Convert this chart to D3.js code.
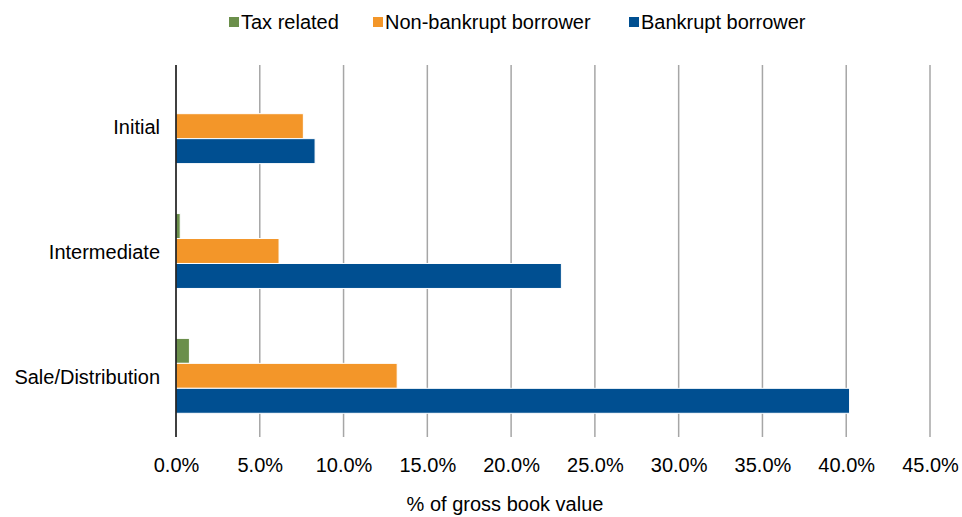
<!DOCTYPE html>
<html><head><meta charset="utf-8">
<script src="https://cdn.jsdelivr.net/npm/d3@7"></script>
<style>body{margin:0;background:#fff}svg{display:block;font-family:"Liberation Sans",Arial,sans-serif}</style>
</head><body><svg id="c" width="962" height="517"></svg>
<script>
const categories = ["Initial", "Intermediate", "Sale/Distribution"];
const seriesNames = ["Tax related", "Non-bankrupt borrower", "Bankrupt borrower"];
const taxRelated = [0.0, 0.25, 0.8];
const nonBankrupt = [7.6, 6.15, 13.2];
const bankrupt = [8.3, 23.0, 40.2];
const xTicks = [0, 5, 10, 15, 20, 25, 30, 35, 40, 45];
const colors = ["#6b8f4b", "#f39629", "#004f91"];
const seriesValues = [taxRelated, nonBankrupt, bankrupt];

const svg = d3.select("#c");
const m = {left: 176, right: 930, top: 65, bottom: 437};
const x = d3.scaleLinear().domain([0, 45]).range([m.left, m.right]);
const y = d3.scaleBand().domain(categories).range([m.top, m.bottom]).paddingInner(0.4).paddingOuter(0.19);
const y1 = d3.scaleBand().domain(seriesNames).range([0, y.bandwidth()]);

// gridlines
svg.append("g").selectAll("line").data(xTicks.filter(d => d > 0)).join("line")
  .attr("x1", d => x(d)).attr("x2", d => x(d))
  .attr("y1", m.top).attr("y2", m.bottom)
  .attr("stroke", "#a6a6a6").attr("stroke-width", 1.5);

// bars
const g = svg.append("g");
categories.forEach((c, ci) => {
  seriesNames.forEach((s, si) => {
    const v = seriesValues[si][ci];
    g.append("rect")
      .attr("x", x(0)).attr("y", y(c) + y1(s))
      .attr("width", x(v) - x(0)).attr("height", y1.bandwidth())
      .attr("fill", colors[si]).attr("stroke", "#fff").attr("stroke-width", 1);
  });
});

// axis line
svg.append("line").attr("x1", x(0)).attr("x2", x(0)).attr("y1", m.top).attr("y2", m.bottom)
  .attr("stroke", "#000").attr("stroke-width", 1.5);

const FS = 20;
// x tick labels
const xa = d3.axisBottom(x).tickValues(xTicks).tickFormat(d => d.toFixed(1) + "%").tickSize(0).tickPadding(0);
const xg = svg.append("g").attr("transform", `translate(0,${m.bottom + 35})`).call(xa);
xg.select(".domain").remove();
xg.selectAll("text").attr("font-size", FS).attr("fill", "#000").attr("font-family", "Liberation Sans, Arial, sans-serif").attr("dy", 0);

// y labels
const ya = d3.axisLeft(y).tickSize(0).tickPadding(16);
const yg = svg.append("g").attr("transform", `translate(${m.left},0)`).call(ya);
yg.select(".domain").remove();
yg.selectAll("text").attr("font-size", FS).attr("fill", "#000").attr("font-family", "Liberation Sans, Arial, sans-serif").attr("dy", "0.4em");

// axis title
svg.append("text").attr("x", 505).attr("y", 511).attr("text-anchor", "middle")
  .attr("font-size", FS).attr("fill", "#000").text("% of gross book value");

// legend
const legX = [229, 373, 629];
seriesNames.forEach((s, i) => {
  svg.append("rect").attr("x", legX[i]).attr("y", 17).attr("width", 10).attr("height", 10).attr("fill", colors[i]);
  svg.append("text").attr("x", legX[i] + 12).attr("y", 29).attr("font-size", FS).attr("fill", "#000").text(s);
});
</script></body></html>
